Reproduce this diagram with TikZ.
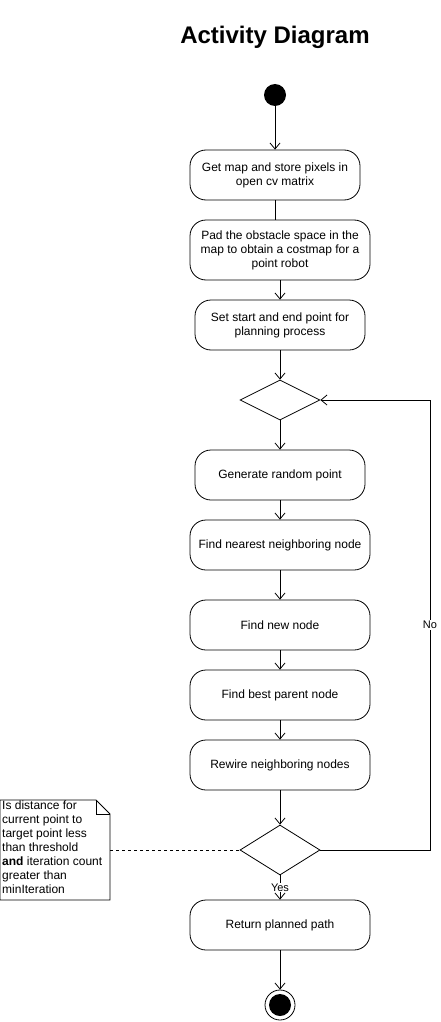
\documentclass[tikz,border=0pt]{standalone}
\usepackage{fontspec}
\setmainfont{Liberation Sans}
\usetikzlibrary{arrows.meta,shapes.geometric}
\begin{document}
\begin{tikzpicture}[x=1pt,y=-1pt,
  every node/.style={font=\fontsize{12}{14}\selectfont, inner sep=0pt},
  actbox/.style={draw, line width=0.8pt, rounded corners=16pt, align=center, minimum height=50pt},
  decis/.style={draw, line width=0.8pt, diamond, minimum width=80pt, minimum height=40pt, inner sep=0pt, aspect=2},
  flow/.style={draw, line width=0.8pt, -{Straight Barb[length=6pt,width=10pt]}},
  plain/.style={draw, line width=0.8pt},
  lbl/.style={fill=white, font=\fontsize{11}{13}\selectfont, inner sep=1pt}
]
\useasboundingbox (0,0) rectangle (440,1022);
\node[font=\fontsize{24}{28}\bfseries] (title) at (275,37) {Activity Diagram};

\node[circle, fill=black, minimum size=22pt] (start) at (275,95) {};
\node[actbox, minimum width=170pt] (b1) at (275,175) {Get map and store pixels in\\open cv matrix};
\node[actbox, minimum width=180pt, minimum height=60pt] (b2) at (280,250) {Pad the obstacle space in the\\map to obtain a costmap for a\\point robot};
\node[actbox, minimum width=170pt] (b3) at (280,325) {Set start and end point for\\planning process};
\node[decis] (d1) at (280,400) {};
\node[actbox, minimum width=170pt] (b4) at (280,475) {Generate random point};
\node[actbox, minimum width=180pt] (b5) at (280,545) {Find nearest neighboring node};
\node[actbox, minimum width=180pt] (b6) at (280,625) {Find new node};
\node[actbox, minimum width=180pt] (b7) at (280,695) {Find best parent node};
\node[actbox, minimum width=180pt] (b8) at (280,765) {Rewire neighboring nodes};
\node[decis, minimum height=50pt, aspect=1.6] (d2) at (280,850) {};
\node[actbox, minimum width=180pt] (b9) at (280,925) {Return planned path};
\node[circle, draw, line width=0.8pt, minimum size=30pt] (endo) at (280,1005) {};
\node[circle, fill=black, minimum size=22pt] (endi) at (280,1005) {};

% note
\draw[line width=0.8pt] (0,800) -- (96,800) -- (110,814) -- (110,900) -- (0,900) -- cycle;
\draw[line width=0.8pt] (96,800) -- (96,814) -- (110,814);
\node[anchor=north west, align=left] (note) at (2,801) {Is distance for\\current point to\\target point less\\than threshold\\\textbf{and} iteration count\\greater than\\minIteration};
\coordinate (noteR) at (110,850);

\coordinate (s1) at (275,107);
\draw[flow] (start) -- (b1.north);
\draw[plain] (b1.south) -- (b1.south |- b2.north);
\draw[flow] (b2) -- (b3);
\draw[flow] (b3) -- (d1);
\draw[flow] (d1) -- (b4);
\draw[flow] (b4) -- (b5);
\draw[flow] (b5) -- (b6);
\draw[flow] (b6) -- (b7);
\draw[flow] (b7) -- (b8);
\draw[flow] (b8) -- (d2);
\draw[flow] (d2) -- node[lbl] (yes) {Yes} (b9);
\draw[flow] (b9) -- (endo);
\coordinate (c1) at (430,850);
\coordinate (c2) at (430,400);
\draw[flow] (d2.east) -- (c1) -- node[lbl, pos=0.5] (no) {No} (c2) -- (d1.east);
\draw[line width=0.8pt, dashed] (noteR) -- (d2.west);
\end{tikzpicture}
\end{document}
